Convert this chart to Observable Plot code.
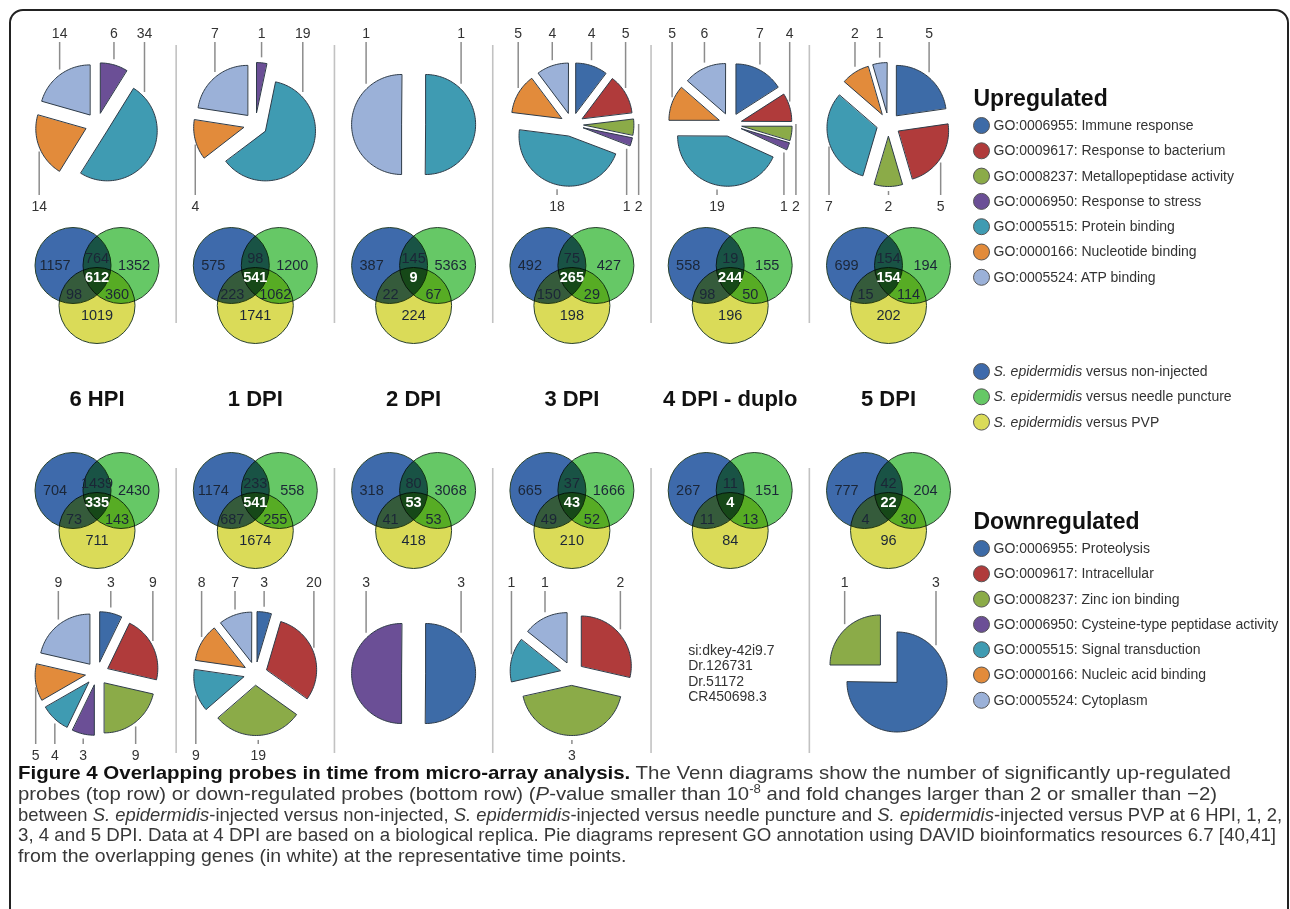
<!DOCTYPE html>
<html><head><meta charset="utf-8">
<script src="https://cdn.jsdelivr.net/npm/d3@7"></script>
<script src="https://cdn.jsdelivr.net/npm/@observablehq/plot@0.6"></script>
<style>
html,body{margin:0;padding:0;background:#fff;width:1290px;height:909px;overflow:hidden;position:relative;}
#frame{position:absolute;left:9px;top:9px;width:1280px;height:1000px;border:2px solid #222;border-radius:14px;box-sizing:border-box;}
#chart{position:absolute;left:0;top:0;}
#caption{position:absolute;left:18px;top:763px;font-family:"Liberation Sans",Arial,sans-serif;font-size:19px;color:#383838;z-index:2;}
#caption div{white-space:nowrap;line-height:20.8px;height:20.8px;}
#caption span.line{display:inline-block;transform-origin:0 50%;}
#caption b{color:#111;}
</style></head><body>
<div id="frame"></div><div id="chart"></div><div id="caption"></div>
<script>
// ---------------- data ----------------
const timePoints = ["6 HPI","1 DPI","2 DPI","3 DPI","4 DPI - duplo","5 DPI"];
const vennRegions = ["B","BG","G","BGY","BY","GY","Y"];
const upVenn = [
 [1157,764,1352,612,98,360,1019],
 [575,98,1200,541,223,1062,1741],
 [387,145,5363,9,22,67,224],
 [492,75,427,265,150,29,198],
 [558,19,155,244,98,50,196],
 [699,154,194,154,15,114,202]];
const downVenn = [
 [704,1439,2430,335,73,143,711],
 [1174,233,558,541,687,255,1674],
 [318,80,3068,53,41,53,418],
 [665,37,1666,43,49,52,210],
 [267,11,151,4,11,13,84],
 [777,42,204,22,4,30,96]];
const upTerms = ["GO:0006955: Immune response","GO:0009617: Response to bacterium","GO:0008237: Metallopeptidase activity","GO:0006950: Response to stress","GO:0005515: Protein binding","GO:0000166: Nucleotide binding","GO:0005524: ATP binding"];
const downTerms = ["GO:0006955: Proteolysis","GO:0009617: Intracellular","GO:0008237: Zinc ion binding","GO:0006950: Cysteine-type peptidase activity","GO:0005515: Signal transduction","GO:0000166: Nucleic acid binding","GO:0005524: Cytoplasm"];
// counts per GO term (order as legend), one array per time point
const upCounts = [
 [0,0,0,6,34,14,14],
 [0,0,0,1,19,4,7],
 [0,0,0,0,1,0,1],
 [4,5,2,1,18,5,4],
 [7,4,2,1,19,5,6],
 [5,5,2,0,7,2,1]];
const downCounts = [
 [3,9,9,3,4,5,9],
 [3,20,19,0,9,8,7],
 [3,0,0,3,0,0,0],
 [0,2,3,0,1,0,1],
 null,
 [3,0,1,0,0,0,0]];
const downGenes4DPI = ["si:dkey-42i9.7","Dr.126731","Dr.51172","CR450698.3"];
const comparisons = ["non-injected","needle puncture","PVP"];

// ---------------- styles ----------------
const catColors = ["#3d6ba7","#b03b3b","#8bab48","#6b4f96","#3f9bb2","#e28b3b","#9bb1d8"];
const vennColors = ["#3e6aab","#66c866","#dadb58"];
const FONT = "'Liberation Sans', Arial, Helvetica, sans-serif";

// ---------------- layout ----------------
const W = 1290, H = 775;
const colCX = timePoints.map((_, i) => 96.5 + i * 158.3);
const sepX = colCX.slice(1).map((x, i) => (x + colCX[i]) / 2);
const rows = [
  {counts: upCounts, venn: upVenn, pieCY: 124, vennCY: 265, topLabY: 33, botLabY: 206, sepY: [45, 323]},
  {counts: downCounts, venn: downVenn, pieCY: 673, vennCY: 490, topLabY: 582, botLabY: 755, sepY: [468, 753]}
];
const deg = Math.PI / 180;
const PIE_R = 50, PIE_OFF = 12, LAB_R = 62, VR = 38, VD = 24, VH = 40;
const vennLabelPos = {B:[-42,0], BG:[0,-7], G:[37,0], BGY:[0,12], BY:[-23,29], GY:[20,29], Y:[0,50]};

function yHit(pts, x, top) {
  const ys = [];
  for (let k = 0; k < pts.length; k++) {
    const [x1, y1] = pts[k], [x2, y2] = pts[(k + 1) % pts.length];
    if ((x1 - x) * (x2 - x) <= 0 && x1 !== x2) { const t = (x - x1) / (x2 - x1); ys.push(y1 + t * (y2 - y1)); }
  }
  if (!ys.length) return null;
  return top ? Math.min(...ys) : Math.max(...ys);
}

const pieRows = [], labelRows = [], leaderRows = [], sepRows = [];
const vennDots = [[], [], []], vennText = [], vennCenter = [];
rows.forEach((row, ri) => {
  sepX.forEach(x => sepRows.push({x, y1: row.sepY[0], y2: row.sepY[1]}));
  row.venn.forEach((vals, ci) => {
    const cx = colCX[ci], cy = row.vennCY;
    vennDots[0].push({x: cx - VD, y: cy});
    vennDots[1].push({x: cx + VD, y: cy});
    vennDots[2].push({x: cx, y: cy + VH});
    vals.forEach((v, k) => {
      const [dx, dy] = vennLabelPos[vennRegions[k]];
      (vennRegions[k] === "BGY" ? vennCenter : vennText).push({x: cx + dx, y: cy + dy, text: String(v)});
    });
  });
  row.counts.forEach((counts, ci) => {
    if (!counts) return;
    const cx = colCX[ci], cy = row.pieCY;
    const total = d3.sum(counts);
    let a = 0; const slices = [];
    counts.forEach((v, k) => {
      if (!v) return;
      const span = v / total * 360, s = a, e = a + span; a = e;
      const mid = (s + e) / 2;
      const scx = cx + PIE_OFF * Math.sin(mid * deg), scy = cy - PIE_OFF * Math.cos(mid * deg);
      const pts = [[scx, scy]];
      const n = Math.max(2, Math.ceil(span / 2));
      for (let j = 0; j <= n; j++) { const t = (s + span * j / n) * deg; pts.push([scx + PIE_R * Math.sin(t), scy - PIE_R * Math.cos(t)]); }
      const id = `${ri}-${ci}-${k}`;
      pts.forEach(p => pieRows.push({x: p[0], y: p[1], id, color: catColors[k]}));
      slices.push({k, v, s, e, mid, span, pts});
    });
    const labs = slices.map(sl => {
      let side, att;
      const signed = sl.mid > 180 ? sl.mid - 360 : sl.mid;
      if (sl.span >= 150 && (sl.s < 50 || sl.e > 310)) { side = "top"; att = Math.max(-50, Math.min(50, signed)); }
      else { side = Math.cos(sl.mid * deg) > 0 ? "top" : "bottom"; att = sl.mid; }
      return {sl, side, x: cx + LAB_R * Math.sin(att * deg)};
    });
    ["top", "bottom"].forEach(side => {
      const g = labs.filter(l => l.side === side).sort((p, q) => p.x - q.x);
      for (let it = 0; it < 30; it++) for (let j = 1; j < g.length; j++) {
        const gap = g[j].x - g[j - 1].x;
        if (gap < 12) { const d = (12 - gap) / 2; g[j].x += d; g[j - 1].x -= d; }
      }
    });
    labs.forEach(l => {
      const top = l.side === "top";
      const ly = top ? row.topLabY : row.botLabY;
      labelRows.push({x: l.x, y: ly, text: String(l.sl.v)});
      const hit = yHit(l.sl.pts, l.x, top);
      const yEnd = hit == null ? cy : (top ? hit - 5 : hit + 5);
      leaderRows.push({x: l.x, y1: top ? ly + 9 : yEnd, y2: top ? yEnd : ly - 11});
    });
  });
});

// legends
const LX = 981, LTX = 993, LSTEP = 25.3;
const upLegend = upTerms.map((t, k) => ({x: LX, tx: LTX, y: 125 + k * LSTEP, text: t, color: catColors[k]}));
const downLegend = downTerms.map((t, k) => ({x: LX, tx: LTX, y: 548 + k * LSTEP, text: t, color: catColors[k]}));
const cmpLegend = comparisons.map((t, k) => ({x: LX, tx: LTX, y: 371 + k * LSTEP, text: t, color: vennColors[k]}));
const ctx = document.createElement("canvas").getContext("2d");
ctx.font = `italic 14px ${FONT}`;
const italW = ctx.measureText("S. epidermidis").width;
ctx.font = `14px ${FONT}`;
const spaceW = ctx.measureText(" ").width;

const headerRows = timePoints.map((t, i) => ({x: colCX[i], y: 398, text: t}));
const geneRows = downGenes4DPI.map((g, k) => ({x: colCX[4] - 42, y: 650 + k * 15.5, text: g}));

const chart = Plot.plot({
  width: W, height: H, margin: 0,
  x: {domain: [0, W], range: [0, W], axis: null},
  y: {domain: [0, H], range: [0, H], axis: null},
  color: {type: "identity"},
  style: {fontFamily: FONT, background: "transparent"},
  marks: [
    Plot.ruleX(sepRows, {x: "x", y1: "y1", y2: "y2", stroke: "#c2c2c2", strokeWidth: 1.6}),
    Plot.line(pieRows, {x: "x", y: "y", z: "id", fill: "color", stroke: "#2e3b48", strokeWidth: 1, curve: "linear-closed"}),
    Plot.ruleX(leaderRows, {x: "x", y1: "y1", y2: "y2", stroke: "#8c8c8c", strokeWidth: 1.5}),
    Plot.text(labelRows, {x: "x", y: "y", text: "text", fontSize: 14, fill: "#333"}),
    ...vennDots.map((d, k) => Plot.dot(d, {x: "x", y: "y", r: VR, fill: vennColors[k], stroke: "#27402c", strokeWidth: 1, mixBlendMode: "multiply"})),
    Plot.text(vennText, {x: "x", y: "y", text: "text", fontSize: 14.5, fill: "#1b2637"}),
    Plot.text(vennCenter, {x: "x", y: "y", text: "text", fontSize: 14.5, fontWeight: "bold", fill: "#fff"}),
    Plot.text(headerRows, {x: "x", y: "y", text: "text", fontSize: 22, fontWeight: "bold", fill: "#111"}),
    Plot.text(geneRows, {x: "x", y: "y", text: "text", fontSize: 14, fill: "#333", textAnchor: "start"}),
    Plot.text(["Upregulated"], {x: () => 973, y: () => 98, text: d => d, fontSize: 23, fontWeight: "bold", fill: "#111", textAnchor: "start"}),
    Plot.text(["Downregulated"], {x: () => 973, y: () => 521, text: d => d, fontSize: 23, fontWeight: "bold", fill: "#111", textAnchor: "start"}),
    Plot.dot([...upLegend, ...downLegend, ...cmpLegend], {x: "x", y: "y", r: 8, fill: "color", stroke: "#555", strokeWidth: 1}),
    Plot.text([...upLegend, ...downLegend], {x: "tx", y: "y", text: "text", fontSize: 14, fill: "#333", textAnchor: "start"}),
    Plot.text(cmpLegend, {x: "tx", y: "y", text: () => "S. epidermidis", fontSize: 14, fontStyle: "italic", fill: "#333", textAnchor: "start"}),
    Plot.text(cmpLegend, {x: d => d.tx + italW + spaceW, y: "y", text: d => "versus " + d.text, fontSize: 14, fill: "#333", textAnchor: "start"})
  ]
});
document.getElementById("chart").appendChild(chart);

// ---------------- caption ----------------
const captionLines = [
  [["b","Figure 4 Overlapping probes in time from micro-array analysis."],["n"," The Venn diagrams show the number of significantly up-regulated"]],
  [["n","probes (top row) or down-regulated probes (bottom row) ("],["i","P"],["n","-value smaller than 10"],["s","-8"],["n"," and fold changes larger than 2 or smaller than \u22122)"]],
  [["n","between "],["i","S. epidermidis"],["n","-injected versus non-injected, "],["i","S. epidermidis"],["n","-injected versus needle puncture and "],["i","S. epidermidis"],["n","-injected versus PVP at 6 HPI, 1, 2,"]],
  [["n","3, 4 and 5 DPI. Data at 4 DPI are based on a biological replica. Pie diagrams represent GO annotation using DAVID bioinformatics resources 6.7 [40,41]"]],
  [["n","from the overlapping genes (in white) at the representative time points."]]
];
const targets = [1213, 1199, 1264, 1258];
const cap = document.getElementById("caption");
const lineSpans = captionLines.map(line => {
  const div = document.createElement("div");
  const inner = document.createElement("span");
  inner.className = "line";
  line.forEach(([s, t]) => {
    const el = document.createElement(s === "b" ? "b" : s === "i" ? "i" : s === "s" ? "sup" : "span");
    el.textContent = t;
    if (s === "s") { el.style.fontSize = "0.65em"; el.style.lineHeight = "0"; }
    inner.appendChild(el);
  });
  div.appendChild(inner);
  cap.appendChild(div);
  return inner;
});
const scales = targets.map((t, i) => t / lineSpans[i].getBoundingClientRect().width);
const meanScale = d3.mean(scales);
lineSpans.forEach((s, i) => { s.style.transform = `scaleX(${i < targets.length ? scales[i] : meanScale})`; });
</script></body></html>
